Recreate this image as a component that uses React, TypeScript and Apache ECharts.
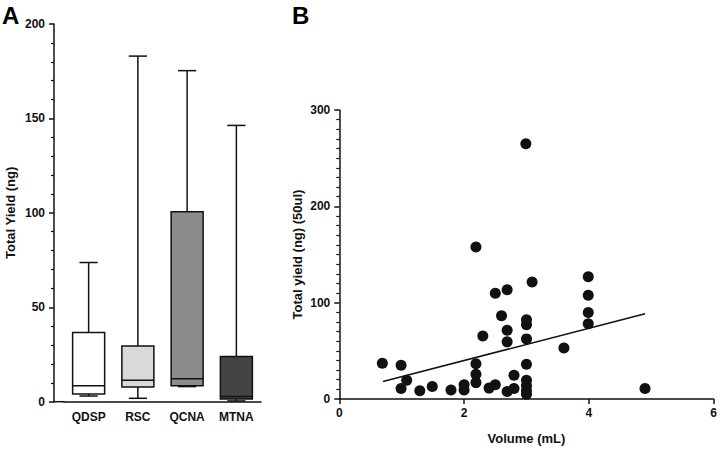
import React, { useEffect, useRef } from "react";
import * as echarts from "echarts";

// Panel A: box plot summary per method
const categories = ["QDSP", "RSC", "QCNA", "MTNA"];
const boxMin = [3, 1.8, 8, 0.4];
const boxQ1 = [4.1, 7.8, 8.5, 1.4];
const boxMedian = [8.5, 11.3, 12.2, 2.7];
const boxQ3 = [36.6, 29.5, 100.6, 23.9];
const boxMax = [73.7, 183, 175.3, 146.3];
const boxFill = ["#ffffff", "#d9d9d9", "#8c8c8c", "#444444"];
const yTicksA = [0, 50, 100, 150, 200];

// Panel B: scatter of volume vs yield
const volume = [
  0.69, 0.99, 0.99, 1.08, 1.29, 1.49, 1.79, 2.0, 2.0, 2.19,
  2.19, 2.19, 2.19, 2.3, 2.4, 2.5, 2.5, 2.6, 2.69, 2.69,
  2.69, 2.69, 2.8, 2.8, 2.99, 3.0, 3.0, 3.0, 3.0, 3.0,
  3.0, 3.0, 3.0, 3.09, 3.6, 3.99, 3.99, 3.99, 3.99, 4.9,
];
const totalYield = [
  37, 35, 11, 19.5, 8.6, 13, 9.3, 14.7, 9.3, 157.7,
  36.7, 25.7, 17, 65.5, 11.3, 14.7, 109.7, 86.4, 113.5, 71.3,
  59.3, 7.9, 24.7, 11, 265, 82.3, 77, 62.4, 36, 19.5,
  13.7, 8.6, 5, 121.4, 53, 126.8, 107.6, 89.8, 78.2, 11,
];
const fitX = [0.7, 4.9];
const fitY = [18.2, 88.4];

const FONT = "'Liberation Sans', Arial, sans-serif";
const INK = "#111111";

export default function App() {
  const ref = useRef<HTMLDivElement>(null);

  useEffect(() => {
    if (!ref.current) return;
    const chart = echarts.init(ref.current, null, { renderer: "svg" });

    const boxData = categories.map((_, i) => [
      i,
      boxMin[i],
      boxQ1[i],
      boxMedian[i],
      boxQ3[i],
      boxMax[i],
    ]);
    const scatterData = volume.map((v, i) => [v, totalYield[i]]);
    const fitData = fitX.map((v, i) => [v, fitY[i]]);

    const labelStyle = {
      color: INK,
      fontFamily: FONT,
      fontWeight: "bold" as const,
      fontSize: 12,
    };
    const lineStyle = { color: INK, width: 1.5 };

    chart.setOption({
      animation: false,
      backgroundColor: "#ffffff",
      textStyle: { fontFamily: FONT },
      grid: [
        { left: 64, top: 24, width: 197, height: 377.7 },
        { left: 339.3, top: 110, width: 377.4, height: 291.7 },
      ],
      xAxis: [
        {
          gridIndex: 0,
          type: "category",
          data: categories,
          boundaryGap: true,
          axisLine: { lineStyle },
          axisTick: { alignWithLabel: true, length: 5, lineStyle },
          axisLabel: { ...labelStyle, margin: 9 },
          splitLine: { show: false },
        },
        {
          gridIndex: 1,
          type: "value",
          min: 0,
          max: 6,
          interval: 2,
          name: "Volume (mL)",
          nameLocation: "middle",
          nameGap: 33,
          nameMoveOverlap: false,
          nameTextStyle: { ...labelStyle, fontSize: 13 },
          axisLine: { lineStyle },
          axisTick: { length: 5, lineStyle },
          axisLabel: { ...labelStyle, margin: 8 },
          splitLine: { show: false },
        },
      ],
      yAxis: [
        {
          gridIndex: 0,
          type: "value",
          min: yTicksA[0],
          max: yTicksA[yTicksA.length - 1],
          interval: 50,
          offset: 10,
          name: "Total Yield (ng)",
          nameLocation: "middle",
          nameGap: 37,
          nameMoveOverlap: false,
          nameTextStyle: { ...labelStyle, fontSize: 13 },
          axisLine: { show: true, lineStyle },
          axisTick: { show: true, length: 5, lineStyle },
          minorTick: { show: true, splitNumber: 5, length: 3, lineStyle: { color: INK, width: 1.2 } },
          axisLabel: { ...labelStyle, margin: 9 },
          splitLine: { show: false },
        },
        {
          gridIndex: 1,
          type: "value",
          min: 0,
          max: 300,
          interval: 100,
          name: "Total yield (ng) (50ul)",
          nameLocation: "middle",
          nameGap: 35,
          nameMoveOverlap: false,
          nameTextStyle: { ...labelStyle, fontSize: 13 },
          axisLine: { show: true, lineStyle },
          axisTick: { show: true, length: 5, lineStyle },
          minorTick: { show: true, splitNumber: 10, length: 3, lineStyle: { color: INK, width: 1.2 } },
          axisLabel: { ...labelStyle, margin: 9 },
          splitLine: { show: false },
        },
      ],
      graphic: [
        {
          type: "text",
          left: 2,
          top: 3,
          style: { text: "A", font: `bold 24px ${FONT}`, fill: "#000" },
        },
        {
          type: "text",
          left: 292,
          top: 3,
          style: { text: "B", font: `bold 24px ${FONT}`, fill: "#000" },
        },
        {
          type: "line",
          shape: { x1: 53.5, y1: 401.7, x2: 64.5, y2: 401.7 },
          style: { stroke: INK, lineWidth: 1.5 },
        },
      ],
      series: [
        {
          type: "custom",
          xAxisIndex: 0,
          yAxisIndex: 0,
          data: boxData,
          encode: { x: 0, y: [1, 2, 3, 4, 5] },
          renderItem: (params: any, api: any) => {
            const i = api.value(0);
            const lo = api.coord([i, api.value(1)]);
            const q1 = api.coord([i, api.value(2)]);
            const md = api.coord([i, api.value(3)]);
            const q3 = api.coord([i, api.value(4)]);
            const hi = api.coord([i, api.value(5)]);
            const band = api.size([1, 0])[0];
            const hw = band * 0.325;
            const cw = band * 0.185;
            const cx = md[0];
            const st = { stroke: INK, lineWidth: 1.5 };
            return {
              type: "group",
              children: [
                { type: "line", shape: { x1: cx, y1: hi[1], x2: cx, y2: q3[1] }, style: st },
                { type: "line", shape: { x1: cx - cw, y1: hi[1], x2: cx + cw, y2: hi[1] }, style: st },
                { type: "line", shape: { x1: cx, y1: q1[1], x2: cx, y2: lo[1] }, style: st },
                { type: "line", shape: { x1: cx - cw, y1: lo[1], x2: cx + cw, y2: lo[1] }, style: st },
                {
                  type: "rect",
                  shape: { x: cx - hw, y: q3[1], width: hw * 2, height: q1[1] - q3[1] },
                  style: { fill: boxFill[params.dataIndex], stroke: INK, lineWidth: 1.5 },
                },
                { type: "line", shape: { x1: cx - hw, y1: md[1], x2: cx + hw, y2: md[1] }, style: st },
              ],
            };
          },
        },
        {
          type: "scatter",
          xAxisIndex: 1,
          yAxisIndex: 1,
          data: scatterData,
          symbolSize: 11,
          itemStyle: { color: INK, opacity: 1 },
        },
        {
          type: "line",
          xAxisIndex: 1,
          yAxisIndex: 1,
          data: fitData,
          symbol: "none",
          lineStyle: { color: INK, width: 1.6 },
        },
      ],
    });

    return () => chart.dispose();
  }, []);

  return (
    <div
      ref={ref}
      style={{ position: "fixed", left: 0, top: 0, width: 720, height: 450, background: "#fff" }}
    />
  );
}
